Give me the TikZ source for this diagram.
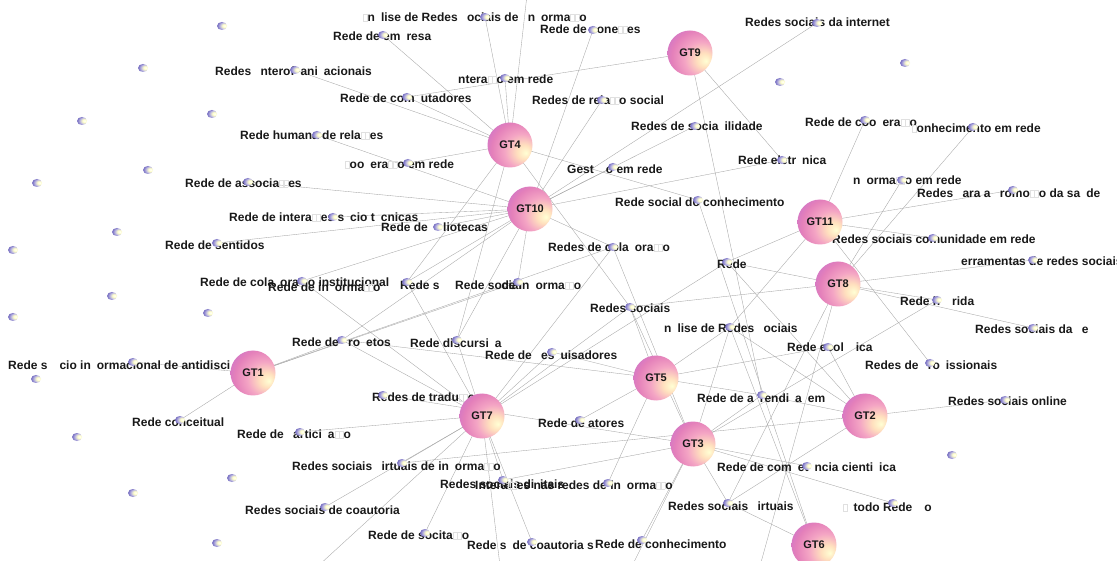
\documentclass[tikz,border=0pt]{standalone}
\usepackage{fontspec}
\setmainfont{Liberation Sans}
\usetikzlibrary{shapes.geometric}
\definecolor{gthi}{RGB}{255,255,212}
\definecolor{gtwarm}{RGB}{255,224,190}
\definecolor{gtmid}{RGB}{244,165,196}
\definecolor{gtpink}{RGB}{228,128,186}
\definecolor{gtout}{RGB}{190,108,212}
\definecolor{gtedge}{RGB}{150,85,195}
\definecolor{sbblue}{RGB}{85,75,180}
\pgfdeclareradialshading{gtball}{\pgfpoint{18bp}{-9bp}}{color(0bp)=(gthi); color(8bp)=(gtwarm); color(19bp)=(gtmid); color(30bp)=(gtpink); color(44bp)=(gtout); color(66bp)=(gtedge)}
\pgfdeclareradialshading{sbshade}{\pgfpoint{14bp}{2bp}}{color(0bp)=(white); color(10bp)=(yellow!22!white); color(20bp)=(sbblue!40!white); color(32bp)=(sbblue!85); color(60bp)=(sbblue!60!black)}
\pgfdeclarelayer{bg}
\pgfsetlayers{bg,main}
\newcommand{\g}{\hspace*{0.5em}}
\newcommand{\bx}{{\color{black!12}\fboxsep=0pt\fboxrule=0.5pt\fbox{\rule{0pt}{7pt}\hspace*{3.5pt}}}}
\tikzset{
  gt/.style={circle, minimum size=45pt, inner sep=0pt, shading=gtball, font=\fontsize{11}{12}\selectfont\bfseries, text=black!90},
  sball/.style={ellipse, minimum width=10pt, minimum height=8pt, inner sep=0pt, shading=sbshade},
  lab/.style={anchor=west, inner sep=0pt, font=\fontsize{12}{14}\selectfont\bfseries, text=black!90},
  conn/.style={draw=black!35, line width=0.35pt}
}
\begin{document}
\begin{tikzpicture}[x=1pt,y=-1pt]
\useasboundingbox (0,0) rectangle (1117,561);
\begin{pgfonlayer}{bg}
\fill[white] (0,0) rectangle (1117,561);
\end{pgfonlayer}
% off-image end points
\coordinate (o1) at (527,-5);
\coordinate (o2) at (760,566);
\coordinate (o3) at (632,566);
\coordinate (o4) at (318,566);
\coordinate (o5) at (500,566);
% labels
\node[lab] (t1) at (363,17) {\bx n\g lise de Redes \g ociais de \g n\g orma\bx\bx o};
\node[lab] (t2) at (333,36) {Rede de em\g resa};
\node[lab] (t3) at (540,29) {Rede de cone\bx\bx es};
\node[lab] (t4) at (745,22) {Redes sociais da internet};
\node[lab] (t5) at (215,71) {Redes \g nterof\g ani\g acionais};
\node[lab] (t6) at (452,79) {\g ntera\bx\bx o em rede};
\node[lab] (t7) at (340,98) {Rede de com\g utadores};
\node[lab] (t8) at (532,100) {Redes de rela\bx\bx o social};
\node[lab] (t9) at (240,135) {Rede humana de rela\bx\bx es};
\node[lab] (t10) at (631,126) {Redes de socia\g ilidade};
\node[lab] (t11) at (805,122) {Rede de coo\g era\bx\bx o};
\node[lab] (t12) at (912,128) {\bx onhecimento em rede};
\node[lab] (t13) at (345,164) {\bx oo\g era\bx\bx o em rede};
\node[lab] (t14) at (567,169) {Gest\g\g o em rede};
\node[lab] (t15) at (738,160) {Rede eletr\g nica};
\node[lab] (t16) at (185,183) {Rede de associa\bx\bx es};
\node[lab] (t17) at (847,180) {\g n\g orma\bx\bx o em rede};
\node[lab] (t18) at (917,193) {Redes \g ara a \g romo\bx\bx o da sa\g de};
\node[lab] (t19) at (615,202) {Rede social do conhecimento};
\node[lab] (t20) at (229,217) {Rede de intera\bx\bx es s\g cio t\g cnicas};
\node[lab] (t21) at (381,227) {Rede de \g\g liotecas};
\node[lab] (t22) at (165,245) {Rede de sentidos};
\node[lab] (t23) at (832,239) {Redes sociais comunidade em rede};
\node[lab] (t24) at (548,247) {Redes de cola\g ora\bx\bx o};
\node[lab] (t25) at (717,264) {Rede};
\node[lab] (t26) at (955,261) {\g erramentas de redes sociais};
\node[lab] (t27) at (200,282) {Rede de cola\g ora\bx\bx o institucional};
\node[lab] (t28) at (268,287) {Rede de in\g orma\bx\bx o};
\node[lab] (t29) at (400,285) {Rede s\hspace*{62pt}de in\g orma\bx\bx o};
\node[lab] (t30) at (455,285) {Rede social};
\node[lab] (t31) at (590,308) {Redes sociais};
\node[lab] (t32) at (900,301) {Rede h\g\g rida};
\node[lab] (t33) at (658,328) {\g n\g lise de Redes \g ociais};
\node[lab] (t34) at (975,329) {Redes sociais da \g e\g};
\node[lab] (t35) at (292,342) {Rede de \g ro\g etos};
\node[lab] (t36) at (410,343) {Rede discursi\g a};
\node[lab] (t37) at (787,347) {Rede ecol\g\g ica};
\node[lab] (t38) at (485,355) {Rede de \g es\g uisadores};
\node[lab] (t39) at (865,365) {Redes de \g ro\g issionais};
\node[lab] (t40) at (8,365) {Rede s\g\g cio in\g ormacional de antidisci};
\node[lab] (t41) at (372,397) {Redes de tradu\bx\bx o};
\node[lab] (t42) at (697,398) {Rede de a\g rendi\g a\g em};
\node[lab] (t43) at (132,422) {Rede conceitual};
\node[lab] (t44) at (538,423) {Rede de atores};
\node[lab] (t45) at (948,401) {Redes sociais online};
\node[lab] (t46) at (237,434) {Rede de \g artici\g a\bx\bx o};
\node[lab] (t47) at (292,466) {Redes sociais \g irtuais de in\g orma\bx\bx o};
\node[lab] (t48) at (717,467) {Rede de com\g et\g ncia cienti\g ica};
\node[lab] (t49) at (440,484) {Redes sociais di\g itais};
\node[lab] (t50) at (475,485) {Intera\bx\bx es nas redes de in\g orma\bx\bx o};
\node[lab] (t51) at (668,506) {Redes sociais \g irtuais};
\node[lab] (t52) at (843,507) {\bx\g todo Rede\g\g o};
\node[lab] (t53) at (245,510) {Redes sociais de coautoria};
\node[lab] (t54) at (368,535) {Rede de socita\bx\bx o};
\node[lab] (t55) at (467,545) {Rede s\g de coautoria s};
\node[lab] (t56) at (595,544) {Rede de conhecimento};
% small balls of the labelled terms
\foreach \n/\x/\y in {1/485/17, 2/383/35, 3/593/30, 4/817/23, 5/295/70, 6/505/78, 7/407/97, 8/602/100, 9/317/135, 10/695/126, 11/865/120, 12/973/127, 13/408/163, 14/613/167, 15/782/160, 16/248/182, 17/902/180, 18/1013/190, 19/698/200, 20/333/217, 21/438/227, 22/217/243, 23/933/238, 24/613/247, 25/727/262, 26/1033/260, 27/302/281, 29/407/282, 30/518/282, 31/630/307, 32/937/300, 33/730/327, 34/1033/328, 35/342/340, 36/457/340, 37/828/347, 38/552/352, 39/930/363, 40/133/362, 41/383/395, 42/762/395, 43/180/420, 44/580/420, 45/1005/400, 46/300/432, 47/402/463, 48/807/466, 49/503/480, 50/608/483, 51/728/503, 52/893/503, 53/325/507, 54/425/533, 55/532/542, 56/642/540}
  \node[sball] (b\n) at (\x,\y) {};
% isolated balls
\foreach \x/\y [count=\i] in {222/26, 143/68, 82/121, 212/114, 37/183, 148/170, 13/250, 117/232, 112/296, 13/317, 208/313, 36/379, 77/437, 232/478, 133/493, 217/543, 905/63, 780/82, 952/455}
  \node[sball] (iso\i) at (\x,\y) {};
% GT nodes
\node[gt] (g9) at (690,53) {GT9};
\node[gt] (g4) at (510,145) {GT4};
\node[gt] (g10) at (530,209) {GT10};
\node[gt] (g11) at (820,222) {GT11};
\node[gt] (g8) at (838,284) {GT8};
\node[gt] (g1) at (253,373) {GT1};
\node[gt] (g5) at (656,378) {GT5};
\node[gt] (g7) at (482,416) {GT7};
\node[gt] (g3) at (693,444) {GT3};
\node[gt] (g2) at (865,416) {GT2};
\node[gt] (g6) at (814,545) {GT6};
% connectors, behind everything
\begin{pgfonlayer}{bg}
\foreach \a/\b in {g9/b7, g9/b15, g9/b42,
  g4/b1, g4/b2, g4/o1, g4/b5, g4/b7, g4/b6, g4/b13, g4/b19, g4/b31, g4/b29, g4/b36,
  g10/b4, g10/b14, g10/b10, g10/b3, g10/b8, g10/b15, g10/b20, g10/b21, g10/b9, g10/b16, g10/b22, g10/b27, g10/b29, g10/b30, g10/b24, g10/b35, g10/b36,
  g11/b11, g11/b18, g11/b23, g11/b25, g11/b39, g11/b33,
  g8/b17, g8/b12, g8/b26, g8/b32, g8/b34, g8/b25, g8/b31, g8/b51, g8/o2,
  g5/b31, g5/b44, g5/b33, g5/b50, g5/b35, g5/b42, g5/b37, g5/b38,
  g3/b41, g3/b32, g3/b48, g3/b52, g3/b56, g3/b49, g3/b42, g3/b33, g3/b31, g3/b24, g3/o3, g3/b51,
  g2/b45, g2/b42, g2/b33, g2/b25, g2/b51, g2/b47, g2/b37,
  g6/b19, g6/b51, g6/b33,
  g7/b38, g7/b31, g7/b24, g7/b35, g7/b46, g7/b47, g7/b53, g7/b54, g7/b55, g7/b49, g7/o4, g7/o5, g7/b27, g7/b29, g7/b36, g7/b25,
  g1/b43, g1/b40, g1/b35, g1/b30, g1/b24}
  \draw[conn] (\a.center) -- (\b.center);
\end{pgfonlayer}
\end{tikzpicture}
\end{document}
